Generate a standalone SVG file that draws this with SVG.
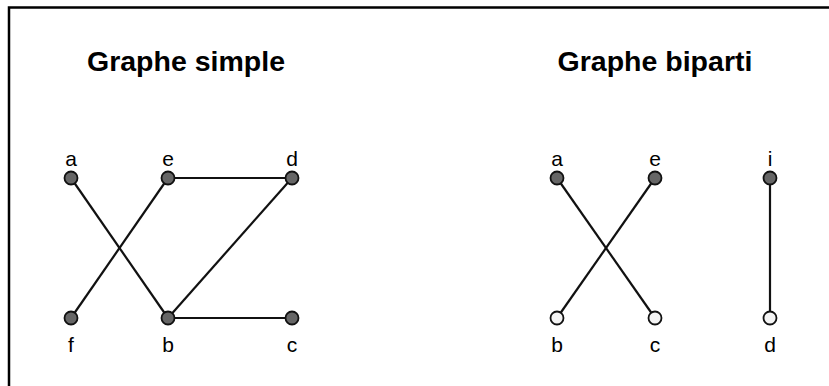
<svg xmlns="http://www.w3.org/2000/svg" width="829" height="386" viewBox="0 0 829 386">
<style>
.frame{fill:none;stroke:#000;stroke-width:2.5}
.edge{stroke:#111;stroke-width:2.2;fill:none}
.dark{fill:#666;stroke:#111;stroke-width:1.8}
.light{fill:#f4f4f4;stroke:#111;stroke-width:1.8}
.lbl{font-family:"Liberation Sans",Arial,sans-serif;font-size:21px;text-anchor:middle;fill:#000}
.title{font-family:"Liberation Sans",Arial,sans-serif;font-size:28.5px;font-weight:bold;text-anchor:middle;fill:#000}
</style>
<rect width="829" height="386" fill="#fff"/>
<path class="frame" d="M9,386 V7.5 H829"/>
<text class="title" x="186" y="71">Graphe simple</text>
<text class="title" x="655" y="71">Graphe biparti</text>
<g id="connectors">
<line class="edge" x1="71" y1="178" x2="168" y2="318"/>
<line class="edge" x1="168" y1="178" x2="71" y2="318"/>
<line class="edge" x1="168" y1="178" x2="292" y2="178"/>
<line class="edge" x1="292" y1="178" x2="168" y2="318"/>
<line class="edge" x1="168" y1="318" x2="292" y2="318"/>
<line class="edge" x1="557" y1="178" x2="655" y2="318"/>
<line class="edge" x1="655" y1="178" x2="557" y2="318"/>
<line class="edge" x1="770" y1="178" x2="770" y2="318"/>
</g>
<g id="s-a"><circle class="dark" cx="71" cy="178" r="6.5"/><text class="lbl" x="71" y="166">a</text></g>
<g id="s-e"><circle class="dark" cx="168" cy="178" r="6.5"/><text class="lbl" x="168" y="166">e</text></g>
<g id="s-d"><circle class="dark" cx="292" cy="178" r="6.5"/><text class="lbl" x="292" y="166">d</text></g>
<g id="s-f"><circle class="dark" cx="71" cy="318" r="6.5"/><text class="lbl" x="71" y="352">f</text></g>
<g id="s-b"><circle class="dark" cx="168" cy="318" r="6.5"/><text class="lbl" x="168" y="352">b</text></g>
<g id="s-c"><circle class="dark" cx="292" cy="318" r="6.5"/><text class="lbl" x="292" y="352">c</text></g>
<g id="b-a"><circle class="dark" cx="557" cy="178" r="6.5"/><text class="lbl" x="557" y="166">a</text></g>
<g id="b-e"><circle class="dark" cx="655" cy="178" r="6.5"/><text class="lbl" x="655" y="166">e</text></g>
<g id="b-i"><circle class="dark" cx="770" cy="178" r="6.5"/><text class="lbl" x="770" y="166">i</text></g>
<g id="b-b"><circle class="light" cx="557" cy="318" r="6.5"/><text class="lbl" x="557" y="352">b</text></g>
<g id="b-c"><circle class="light" cx="655" cy="318" r="6.5"/><text class="lbl" x="655" y="352">c</text></g>
<g id="b-d"><circle class="light" cx="770" cy="318" r="6.5"/><text class="lbl" x="770" y="352">d</text></g>
</svg>
